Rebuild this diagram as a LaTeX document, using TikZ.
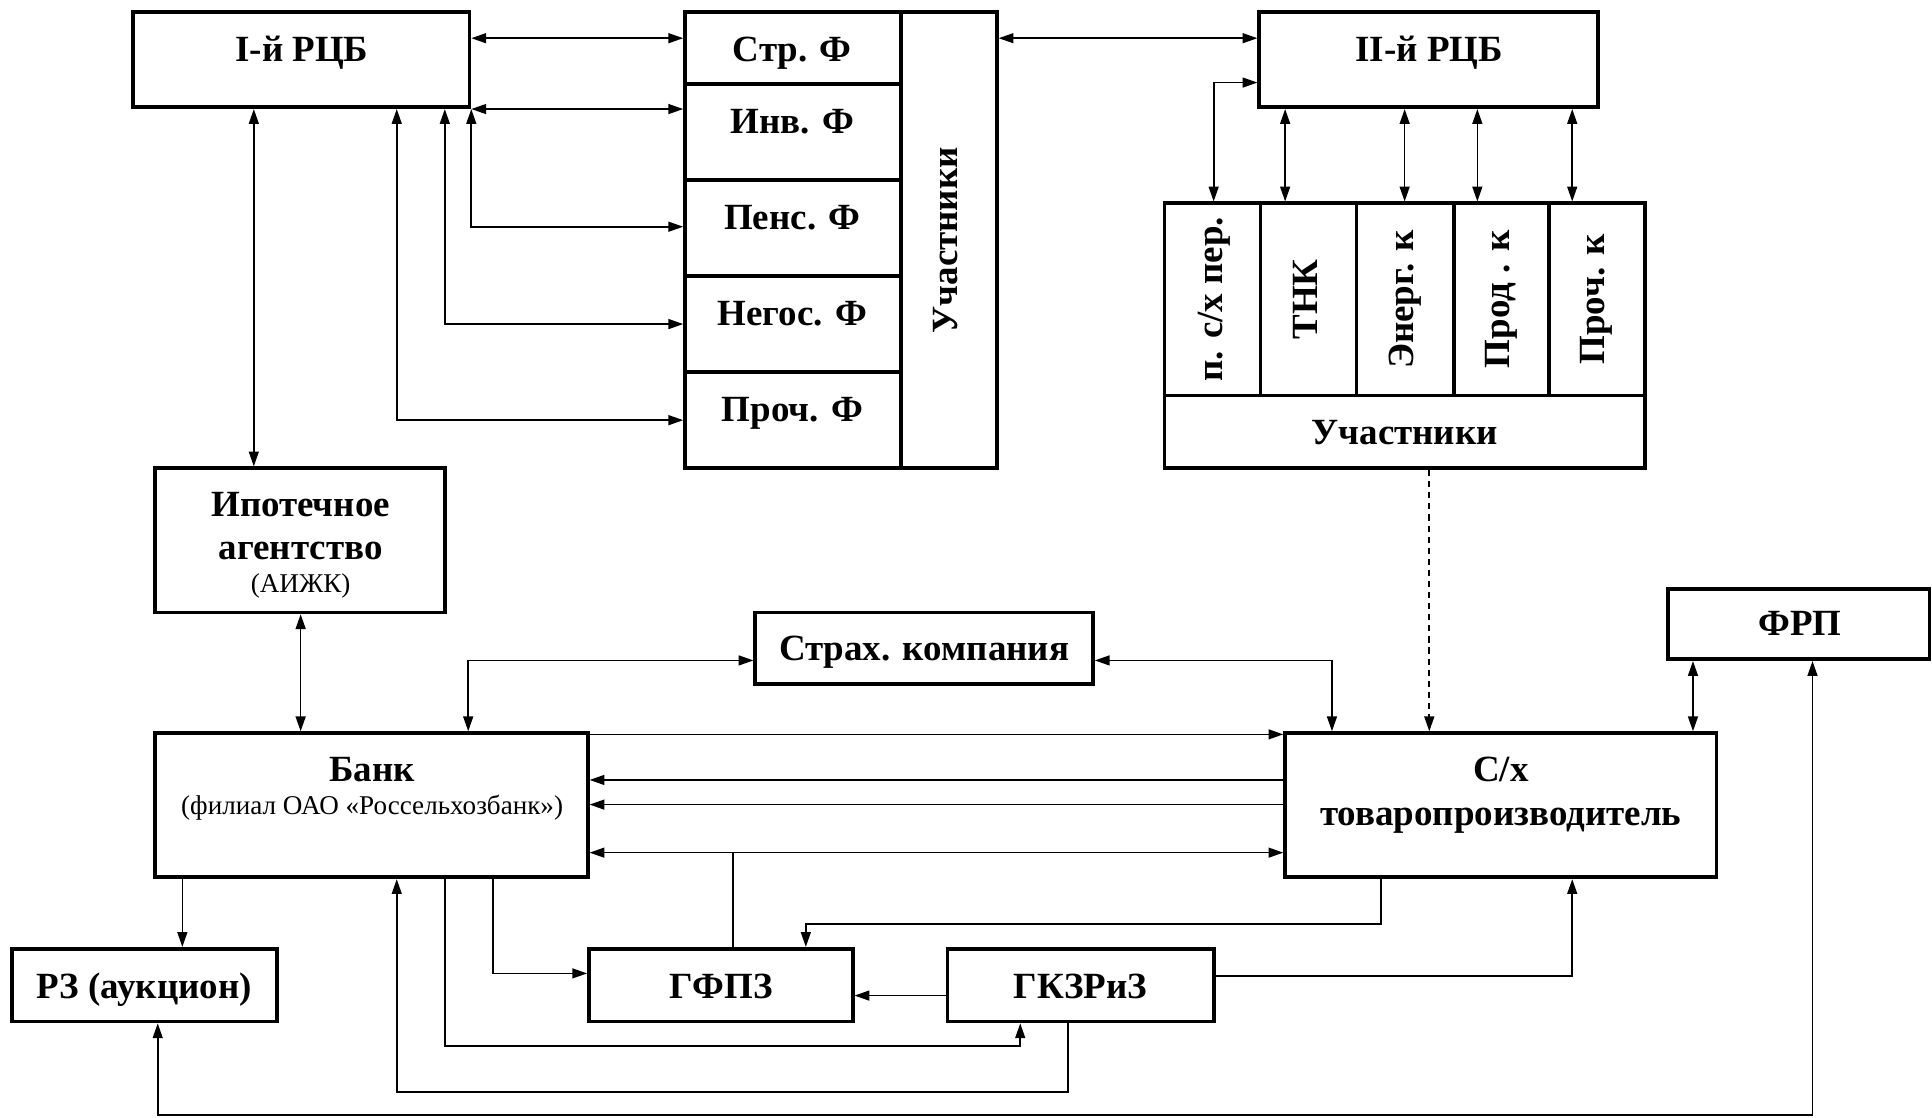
\documentclass[tikz,border=0pt]{standalone}
\usepackage{fontspec}
\setmainfont{Liberation Serif}
\usetikzlibrary{arrows.meta}
\newcommand\mkbox[5]{\node[box, minimum width={(#4-#2)*1pt}, minimum height={(#5-#3)*1pt}] (#1) at ({(#2+#4)/2},{(#3+#5)/2}) {};}
\tikzset{
  box/.style={draw, line width=3pt, inner sep=0pt},
  conn/.style={line width=1.35pt},
  lbl/.style={font=\bfseries\fontsize{30}{35}\selectfont, inner sep=0pt, anchor=base},
  sml/.style={font=\fontsize{22}{26}\selectfont, inner sep=0pt, anchor=base},
  vlbl/.style={font=\bfseries\fontsize{30}{35}\selectfont, inner sep=0pt, anchor=mid, rotate=90},
  >={Triangle[length=12pt,width=8pt]}
}
\begin{document}
\begin{tikzpicture}[x=1pt,y=-1pt]
\fill[white] (0,0) rectangle (1568,907);
\useasboundingbox (0,0) rectangle (1568,907);
% boxes
\mkbox{rcb1}{108}{10}{381}{87}
\mkbox{strf}{556}{10}{731}{68}
\mkbox{invf}{556}{68}{731}{146}
\mkbox{pensf}{556}{146}{731}{224}
\mkbox{negf}{556}{224}{731}{302}
\mkbox{prochf}{556}{302}{731}{380}
\mkbox{uch1}{731}{10}{809}{380}
\mkbox{rcb2}{1022}{10}{1297}{87}
\mkbox{p1}{945}{165}{1023}{321}
\mkbox{p2}{1023}{165}{1101}{321}
\mkbox{p3}{1101}{165}{1180}{321}
\mkbox{p4}{1180}{165}{1257}{321}
\mkbox{p5}{1257}{165}{1335}{321}
\mkbox{uch2}{945}{321}{1335}{380}
\mkbox{ipo}{126}{380}{361}{497}
\mkbox{strah}{613}{497}{887}{555}
\mkbox{frp}{1354}{478}{1566}{535}
\mkbox{bank}{126}{595}{477}{712}
\mkbox{sx}{1043}{595}{1393}{712}
\mkbox{rz}{10}{770}{225}{829}
\mkbox{gfpz}{478}{770}{692}{829}
\mkbox{gkz}{769}{770}{985}{829}
% texts
\node[lbl] (trcb1) at (245,50) {I-й РЦБ};
\node[lbl] (tstrf) at (643,50) {Стр. Ф};
\node[lbl] (tinvf) at (643,108) {Инв. Ф};
\node[lbl] (tpensf) at (643,186) {Пенс. Ф};
\node[lbl] (tnegf) at (643,264) {Негос. Ф};
\node[lbl] (tprochf) at (643,342) {Проч. Ф};
\node[vlbl] (tuch1) at (775,195) {Участники};
\node[lbl] (trcb2) at (1160,50) {II-й РЦБ};
\node[vlbl] (tp1) at (990,243) {п. с/х пер.};
\node[vlbl] (tp2) at (1067,243) {ТНК};
\node[vlbl] (tp3) at (1145,243) {Энерг. к};
\node[vlbl] (tp4) at (1223,243) {Прод . к};
\node[vlbl] (tp5) at (1300,243) {Проч. к};
\node[lbl] (tuch2) at (1140,361) {Участники};
\node[lbl] (tipo1) at (244,419) {Ипотечное};
\node[lbl] (tipo2) at (244,454) {агентство};
\node[sml] (tipo3) at (244,481) {(АИЖК)};
\node[lbl] (tstrah) at (750,536) {Страх. компания};
\node[lbl] (tfrp) at (1461,516) {ФРП};
\node[lbl] (tbank1) at (302,634) {Банк};
\node[sml] (tbank2) at (302,661) {(филиал ОАО «Россельхозбанк»)};
\node[lbl] (tsx1) at (1218,634) {С/х};
\node[lbl] (tsx2) at (1218,670) {товаропроизводитель};
\node[lbl] (trz) at (117,810) {РЗ (аукцион)};
\node[lbl] (tgfpz) at (585,810) {ГФПЗ};
\node[lbl] (tgkz) at (877,810) {ГКЗРиЗ};
% connectors top left
\draw[conn,<->] (rcb1.east |- 0,31) -- (strf.west |- 0,31);
\draw[conn,<->] (rcb1.south east) -- (invf.west |- rcb1.south east);
\draw[conn,<->] (rcb1.south east) |- (pensf.west |- 0,184);
\draw[conn,<->] (361,0 |- rcb1.south) |- (negf.west |- 0,263);
\draw[conn,<->] (322,0 |- rcb1.south) |- (prochf.west |- 0,341);
\draw[conn,<->] (206,0 |- rcb1.south) -- (206,0 |- ipo.north);
% top right
\draw[conn,<->] (uch1.east |- 0,31) -- (rcb2.west |- 0,31);
\draw[conn,<->] (rcb2.west |- 0,67) -| (985,0 |- p1.north);
\foreach \xx in {1043,1140,1199,1276}
  \draw[conn,<->] (\xx,0 |- rcb2.south) -- (\xx,0 |- p2.north);
\draw[conn,->,dash pattern=on 5pt off 4pt] (1160,0 |- uch2.south) -- (1160,0 |- sx.north);
% middle
\draw[conn,<->] (244,0 |- ipo.south) -- (244,0 |- bank.north);
\draw[conn,<->] (380,0 |- bank.north) |- (strah.west |- 0,536);
\draw[conn,<->] (strah.east |- 0,536) -| (1081,0 |- sx.north);
\draw[conn,<->] (1374,0 |- frp.south) -- (1374,0 |- sx.north);
\draw[conn,->] (bank.east |- 0,596) -- (sx.west |- 0,596);
\draw[conn,->] (sx.west |- 0,633) -- (bank.east |- 0,633);
\draw[conn,->] (sx.west |- 0,653) -- (bank.east |- 0,653);
\draw[conn,<->] (bank.east |- 0,692) -- (sx.west |- 0,692);
\coordinate (jn) at (595,692);
\draw[conn] (gfpz.north -| jn) -- (jn);
% bottom
\draw[conn,->] (1121,0 |- sx.south) -- (1121,750) -| (654,0 |- gfpz.north);
\draw[conn,->] (148,0 |- bank.south) -- (148,0 |- rz.north);
\draw[conn,->] (400,0 |- bank.south) |- (gfpz.west |- 0,790);
\draw[conn,->] (gkz.west |- 0,808) -- (gfpz.east |- 0,808);
\draw[conn,->] (gkz.east |- 0,792) -| (1276,0 |- sx.south);
\draw[conn,->] (361,0 |- bank.south) -- (361,849) -| (828,0 |- gkz.south);
\draw[conn,->] (867,0 |- gkz.south) -- (867,886) -| (322,0 |- bank.south);
\draw[conn,<->] (1471,0 |- frp.south) -- (1471,905) -| (128,0 |- rz.south);
\end{tikzpicture}
\end{document}
